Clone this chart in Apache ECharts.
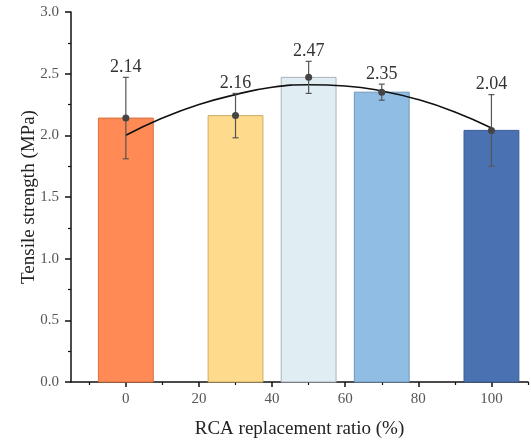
<!DOCTYPE html>
<html>
<head>
<meta charset="utf-8">
<script src="https://cdn.jsdelivr.net/npm/echarts@6/dist/echarts.min.js"></script>
<style>
html,body{margin:0;padding:0;background:#fff;}
#chart{width:531px;height:443px;}
</style>
</head>
<body>
<div id="chart"></div>
<script>
// ---- data ----
const ratios = [0, 30, 50, 70, 100];
const strength = [2.14, 2.16, 2.47, 2.35, 2.04];
const errors = [0.33, 0.18, 0.13, 0.065, 0.29];
const fitX = [0, 10, 20, 30, 40, 50, 60, 70, 80, 90, 100];
const fitY = [2.00, 2.14, 2.25, 2.33, 2.39, 2.41, 2.40, 2.36, 2.29, 2.19, 2.06];
const xTickValues = [0, 20, 40, 60, 80, 100];
const xMinorTickValues = [-10, 10, 30, 50, 70, 90, 110];

// ---- styles ----
const barColors = ['#FF8A55', '#FDDA8C', '#E0EDF2', '#90BDE4', '#4A72B2'];
const barBorders = ['#D9703F', '#CDAE66', '#A9B3B8', '#7096BA', '#3A5C94'];
const serif = '"Liberation Serif", "DejaVu Serif", serif';
const HALF_W = 7.5;

const barData = ratios.map((x, i) => [x, strength[i]]);
const errData = ratios.map((x, i) => [x, strength[i], errors[i]]);
const fitData = fitX.map((x, i) => [x, fitY[i]]);

const chart = echarts.init(document.getElementById('chart'), null, {renderer: 'canvas'});
chart.setOption({
  animation: false,
  backgroundColor: '#fff',
  grid: {left: 71, right: 3, top: 12, bottom: 61, containLabel: false, outerBoundsMode: 'none'},
  xAxis: [{
    type: 'value', min: -15, max: 110, position: 'bottom',
    name: 'RCA replacement ratio (%)', nameLocation: 'middle', nameGap: 38, nameMoveOverlap: false,
    nameTextStyle: {fontFamily: serif, fontSize: 19, color: '#222', verticalAlign: 'top'},
    axisLine: {show: true, onZero: false, lineStyle: {color: '#111', width: 1.5}},
    axisTick: {show: true, length: 5, customValues: xTickValues, lineStyle: {color: '#111', width: 1.5}},
    axisLabel: {customValues: xTickValues, fontFamily: serif, fontSize: 15, color: '#555', margin: 10},
    splitLine: {show: false}
  }, {
    type: 'value', min: -15, max: 110, position: 'bottom', offset: 0,
    axisLine: {show: false, onZero: false},
    axisTick: {show: true, length: 3, customValues: xMinorTickValues, lineStyle: {color: '#111', width: 1.2}},
    axisLabel: {show: false},
    splitLine: {show: false}
  }],
  yAxis: {
    type: 'value', min: 0, max: 3, interval: 0.5, position: 'left',
    name: 'Tensile strength (MPa)', nameLocation: 'middle', nameGap: 32, nameRotate: 90, nameMoveOverlap: false,
    nameTextStyle: {fontFamily: serif, fontSize: 19, color: '#222'},
    axisLine: {show: true, onZero: false, lineStyle: {color: '#111', width: 1.5}},
    axisTick: {show: true, length: 6, lineStyle: {color: '#111', width: 1.5}},
    minorTick: {show: true, splitNumber: 2, length: 3, lineStyle: {color: '#111', width: 1.2}},
    axisLabel: {fontFamily: serif, fontSize: 15, color: '#555', margin: 12, formatter: v => v.toFixed(1)},
    splitLine: {show: false}, minorSplitLine: {show: false}
  },
  series: [{
    type: 'custom', xAxisIndex: 0, z: 2,
    data: barData, encode: {x: 0, y: 1},
    renderItem: (params, api) => {
      const x = api.value(0), y = api.value(1);
      const p0 = api.coord([x - HALF_W, 0]);
      const p1 = api.coord([x + HALF_W, y]);
      return {type: 'rect',
        shape: {x: p0[0], y: p1[1], width: p1[0] - p0[0], height: p0[1] - p1[1]},
        style: {fill: barColors[params.dataIndex], stroke: barBorders[params.dataIndex], lineWidth: 1}};
    }
  }, {
    type: 'line', xAxisIndex: 0, z: 3, data: fitData, smooth: true, showSymbol: false,
    lineStyle: {color: '#111', width: 1.6}
  }, {
    type: 'custom', xAxisIndex: 0, z: 4,
    data: errData, encode: {x: 0, y: 1},
    renderItem: (params, api) => {
      const x = api.value(0), y = api.value(1), e = api.value(2);
      const top = api.coord([x, y + e]);
      const bot = api.coord([x, y - e]);
      const mid = api.coord([x, y]);
      const ls = {stroke: '#555', lineWidth: 1.2};
      return {type: 'group', children: [
        {type: 'line', shape: {x1: top[0], y1: top[1], x2: bot[0], y2: bot[1]}, style: ls},
        {type: 'line', shape: {x1: top[0] - 3, y1: top[1], x2: top[0] + 3, y2: top[1]}, style: ls},
        {type: 'line', shape: {x1: bot[0] - 3, y1: bot[1], x2: bot[0] + 3, y2: bot[1]}, style: ls},
        {type: 'circle', shape: {cx: mid[0], cy: mid[1], r: 3.5}, style: {fill: '#444'}},
        {type: 'text', x: top[0], y: top[1] - 1,
          style: {text: y.toFixed(2), fill: '#333', fontFamily: serif, fontSize: 18,
            align: 'center', verticalAlign: 'bottom'}}
      ]};
    }
  }]
});
</script>
</body>
</html>
